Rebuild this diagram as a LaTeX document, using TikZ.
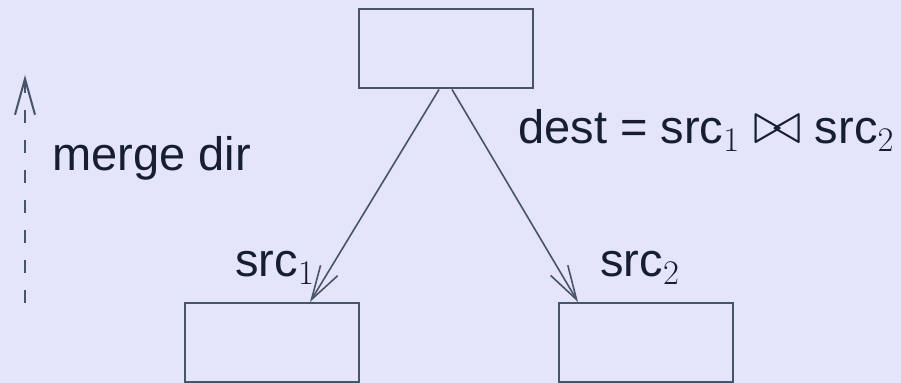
\documentclass[tikz,border=0pt]{standalone}
\usepackage{fontspec}
\setmainfont{Liberation Sans}
\usetikzlibrary{arrows.meta}
\definecolor{bgc}{RGB}{228,228,250}
\definecolor{linec}{RGB}{72,84,106}
\definecolor{txtc}{RGB}{22,30,50}
\tikzset{
  box/.style={draw=linec, line width=1pt, minimum width=87pt, minimum height=39.5pt, inner sep=0pt},
  conn/.style={draw=linec, line width=0.8pt, -{Straight Barb[length=17pt, width=10pt, line width=0.8pt]}},
  dirarrow/.style={draw=linec, line width=1pt, dash pattern=on 6.5pt off 8.5pt, -{Straight Barb[length=18pt, width=10pt, line width=1pt]}},
  lbl/.style={text=txtc, anchor=base west, inner sep=0pt, font=\fontsize{23.5}{28}\selectfont}
}
\begin{document}
\begin{tikzpicture}[x=0.5pt, y=-0.5pt]
  \fill[bgc] (0,0) rectangle (901,383);
  \useasboundingbox (0,0) rectangle (901,383);
  \node[box] (top) at (445.5,49) {};
  \node[box] (bl) at (272,342.5) {};
  \node[box] (br) at (646,342.5) {};
  \draw[conn] ([xshift=-3.25pt]top.south) -- ([xshift=19pt]bl.north);
  \draw[conn] ([xshift=3.25pt]top.south) -- ([xshift=-34pt]br.north);
  \coordinate (d0) at (25,303);
  \coordinate (d1) at (25,75);
  \draw[dirarrow] (d0) -- (d1);
  \node[lbl] (md) at (52,171) {merge dir};
  \node[lbl] (s1) at (235,277) {src$_1$};
  \node[lbl] (s2) at (600,277) {src$_2$};
  \node[lbl] (eq) at (518,144) {dest = src$_1$ \scalebox{1.2}{$\bowtie$} src$_2$};
\end{tikzpicture}
\end{document}
